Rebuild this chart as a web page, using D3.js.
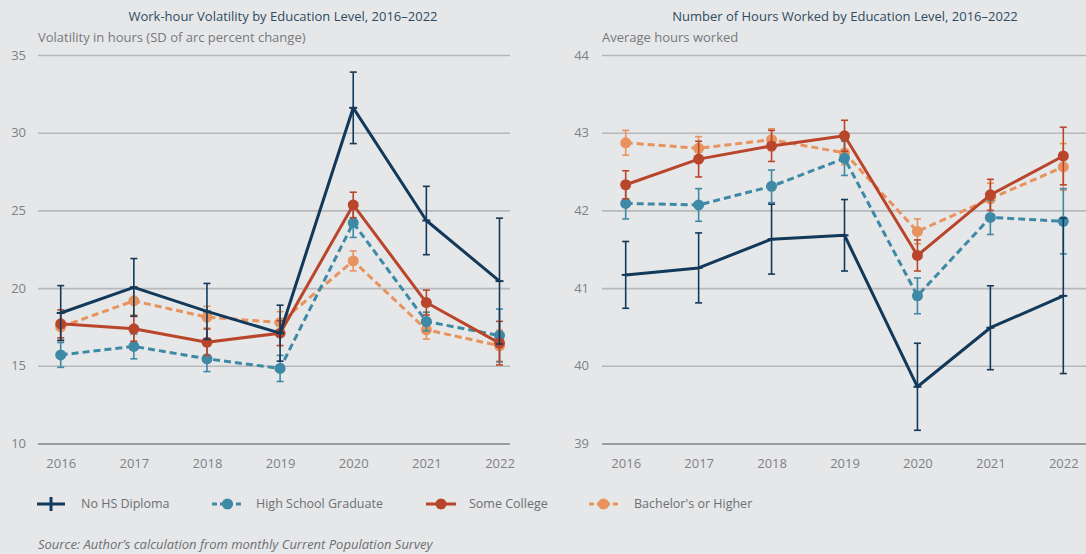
<!DOCTYPE html>
<html>
<head>
<meta charset="utf-8">
<script src="https://cdn.jsdelivr.net/npm/d3@7"></script>
<style>
  html, body { margin: 0; padding: 0; background: #e6e7e9; }
  svg { display: block; font-family: "Open Sans", "Noto Sans", sans-serif; }
</style>
</head>
<body>
<svg id="chart" width="1086" height="554"></svg>
<script>
// ---- data ----
const years = [2016, 2017, 2018, 2019, 2020, 2021, 2022];
const seriesNames = ["No HS Diploma", "High School Graduate", "Some College", "Bachelor's or Higher"];

// Work-hour volatility (SD of arc percent change), point estimates and error half-widths
const volNoHS      = [18.4, 20.05, 18.5, 17.1, 31.6, 24.35, 20.45];
const volNoHSErr   = [1.76, 1.85, 1.8, 1.8, 2.3, 2.2, 4.05];
const volHSGrad    = [15.7, 16.25, 15.45, 14.83, 24.2, 17.85, 16.95];
const volHSGradErr = [0.8, 0.8, 0.82, 0.84, 0.94, 0.6, 1.7];
const volSomeCol   = [17.7, 17.38, 16.52, 17.1, 25.35, 19.07, 16.46];
const volSomeColErr= [0.9, 0.8, 0.85, 0.8, 0.82, 0.8, 1.4];
const volBach      = [17.5, 19.18, 18.13, 17.79, 21.75, 17.32, 16.29];
const volBachErr   = [0.9, 0.9, 0.7, 0.7, 0.64, 0.6, 1.0];

// Average hours worked, point estimates and error half-widths
const hrsNoHS      = [41.17, 41.26, 41.63, 41.68, 39.73, 40.49, 40.9];
const hrsNoHSErr   = [0.43, 0.45, 0.45, 0.46, 0.56, 0.54, 1.0];
const hrsHSGrad    = [42.09, 42.07, 42.31, 42.67, 40.9, 41.91, 41.86];
const hrsHSGradErr = [0.2, 0.21, 0.21, 0.22, 0.23, 0.22, 0.42];
const hrsSomeCol   = [42.33, 42.66, 42.83, 42.96, 41.42, 42.2, 42.7];
const hrsSomeColErr= [0.18, 0.23, 0.2, 0.2, 0.2, 0.2, 0.37];
const hrsBach      = [42.87, 42.8, 42.91, 42.74, 41.73, 42.15, 42.56];
const hrsBachErr   = [0.16, 0.15, 0.14, 0.15, 0.16, 0.2, 0.3];

const volTicks = [10, 15, 20, 25, 30, 35];
const hrsTicks = [39, 40, 41, 42, 43, 44];

// ---- styling ----
const colors = ["#12395a", "#3e89a6", "#b9462b", "#e8935e"];
const dashed = [false, true, false, true];
const markers = [false, true, true, true];

const svg = d3.select("#chart");

function buildSeries(vals, errs) {
  return seriesNames.map((name, i) => ({
    name, color: colors[i], dashed: dashed[i], marker: markers[i],
    points: years.map((yr, j) => ({ year: yr, v: vals[i][j], e: errs[i][j] }))
  }));
}

function drawPanel(opts) {
  const g = svg.append("g");
  const x = d3.scalePoint().domain(years).range(opts.xRange);
  const y = d3.scaleLinear().domain(opts.yDomain).range([443.5, 55]);

  // horizontal grid + tick labels
  const yAxis = d3.axisLeft(y).tickValues(opts.yTicks).tickFormat(d3.format("d"))
    .tickSize(-(opts.gridRight - opts.gridLeft)).tickPadding(0);
  const ya = g.append("g").attr("transform", `translate(${opts.gridLeft},0)`).call(yAxis);
  ya.select(".domain").remove();
  ya.selectAll(".tick line")
    .attr("stroke", d => d === opts.yDomain[0] ? "#9a9c9f" : "#b6b8bb")
    .attr("stroke-width", d => d === opts.yDomain[0] ? 2 : 1.6);
  ya.selectAll(".tick text")
    .attr("x", opts.yLabelX - opts.gridLeft)
    .attr("text-anchor", "end")
    .attr("fill", "#808285").style("font-size", "13px")
    .style("font-family", "'Open Sans', sans-serif");

  // x tick labels
  const xAxis = d3.axisBottom(x).tickSize(0).tickPadding(0);
  const xa = g.append("g").attr("transform", "translate(0,463)").call(xAxis);
  xa.select(".domain").remove();
  xa.selectAll(".tick text").attr("dy", "0.35em")
    .attr("fill", "#808285").style("font-size", "13px")
    .style("font-family", "'Open Sans', sans-serif");

  // titles
  g.append("text").attr("x", opts.titleX).attr("y", 16).attr("dy", "0.35em")
    .attr("text-anchor", "middle").attr("fill", "#2e4b60")
    .style("font-size", "13px").text(opts.title);
  g.append("text").attr("x", opts.gridLeft).attr("y", 37).attr("dy", "0.35em")
    .attr("fill", "#77797c").style("font-size", "13px").text(opts.subtitle);

  const series = buildSeries(opts.vals, opts.errs);
  const line = d3.line().x(d => x(d.year)).y(d => y(d.v));
  // draw from last to first so the No HS series sits on top
  const order = [3, 1, 2, 0];
  order.forEach(i => {
    const s = series[i];
    const sg = g.append("g");
    // error bars
    const eb = sg.selectAll(".eb").data(s.points).enter().append("g");
    eb.append("line")
      .attr("x1", d => x(d.year)).attr("x2", d => x(d.year))
      .attr("y1", d => y(d.v - d.e)).attr("y2", d => y(d.v + d.e))
      .attr("stroke", s.color).attr("stroke-width", 1.6);
    [-1, 1].forEach(sgn => {
      eb.append("line")
        .attr("x1", d => x(d.year) - 3.5).attr("x2", d => x(d.year) + 3.5)
        .attr("y1", d => y(d.v + sgn * d.e)).attr("y2", d => y(d.v + sgn * d.e))
        .attr("stroke", s.color).attr("stroke-width", 1.6);
    });
    // line
    sg.append("path").datum(s.points).attr("d", line)
      .attr("fill", "none").attr("stroke", s.color).attr("stroke-width", 3)
      .attr("stroke-linejoin", "round")
      .attr("stroke-dasharray", s.dashed ? "7,4" : null);
    // markers
    if (s.marker) {
      sg.selectAll(".pt").data(s.points).enter().append("circle")
        .attr("cx", d => x(d.year)).attr("cy", d => y(d.v)).attr("r", 5.5)
        .attr("fill", s.color);
    } else {
      sg.selectAll(".pt").data(s.points).enter().append("line")
        .attr("x1", d => x(d.year) - 4).attr("x2", d => x(d.year) + 4)
        .attr("y1", d => y(d.v)).attr("y2", d => y(d.v))
        .attr("stroke", s.color).attr("stroke-width", 2);
    }
  });
}

drawPanel({
  title: "Work-hour Volatility by Education Level, 2016–2022",
  subtitle: "Volatility in hours (SD of arc percent change)",
  titleX: 283, gridLeft: 38, gridRight: 510, yLabelX: 26,
  xRange: [60.7, 499.5], yDomain: [10, 35], yTicks: volTicks,
  vals: [volNoHS, volHSGrad, volSomeCol, volBach],
  errs: [volNoHSErr, volHSGradErr, volSomeColErr, volBachErr]
});

drawPanel({
  title: "Number of Hours Worked by Education Level, 2016–2022",
  subtitle: "Average hours worked",
  titleX: 845, gridLeft: 602, gridRight: 1086, yLabelX: 589,
  xRange: [625.7, 1063.3], yDomain: [39, 44], yTicks: hrsTicks,
  vals: [hrsNoHS, hrsHSGrad, hrsSomeCol, hrsBach],
  errs: [hrsNoHSErr, hrsHSGradErr, hrsSomeColErr, hrsBachErr]
});

// ---- legend ----
const legendY = 504;
const legendItems = [
  { x0: 37, x1: 65, tx: 81 },
  { x0: 212, x1: 243, tx: 256 },
  { x0: 426, x1: 456, tx: 469 },
  { x0: 589, x1: 618, tx: 634 }
];
const lg = svg.append("g");
legendItems.forEach((it, i) => {
  const cx = (it.x0 + it.x1) / 2;
  lg.append("line").attr("x1", it.x0).attr("x2", it.x1)
    .attr("y1", legendY).attr("y2", legendY)
    .attr("stroke", colors[i]).attr("stroke-width", 3)
    .attr("stroke-dasharray", dashed[i] ? "5,3" : null);
  if (markers[i]) {
    lg.append("circle").attr("cx", cx).attr("cy", legendY).attr("r", 5.5).attr("fill", colors[i]);
  } else {
    lg.append("line").attr("x1", cx).attr("x2", cx)
      .attr("y1", legendY - 7).attr("y2", legendY + 7)
      .attr("stroke", colors[i]).attr("stroke-width", 3);
  }
  lg.append("text").attr("x", it.tx).attr("y", legendY).attr("dy", "0.35em")
    .attr("fill", "#6d6f72").style("font-size", "12.5px").text(seriesNames[i]);
});

svg.append("text").attr("x", 38).attr("y", 544).attr("dy", "0.35em")
  .attr("fill", "#6d6f72").style("font-size", "13px").style("font-style", "italic")
  .text("Source: Author’s calculation from monthly Current Population Survey");
</script>
</body>
</html>
